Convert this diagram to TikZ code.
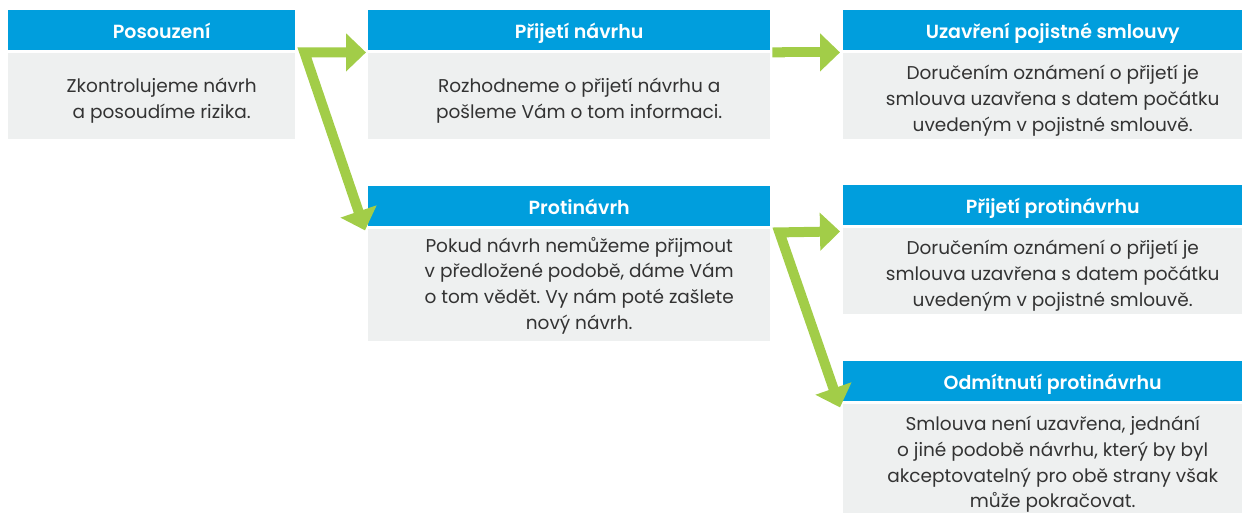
\documentclass[tikz,border=0pt]{standalone}
\usepackage{fontspec}
\setmainfont{Poppins}
\newfontfamily\kopfpismo{Poppins SemiBold}
\usetikzlibrary{arrows.meta,
                positioning}
\definecolor{kopfblau}{HTML}{009EDD}
\definecolor{flaeche}{HTML}{EEF0F0}
\definecolor{zelena}{HTML}{A2CD48}
\definecolor{pismo}{HTML}{333333}
\frenchspacing

\begin{document}
\begin{tikzpicture}%
    [x = 1pt, y = -1pt,
     kopf/.style = {fill=kopfblau, anchor=north west, inner sep=0pt, minimum height=40pt,
                    label={[nadpis]center:#1}},
     nadpis/.style = {text=white, xshift=10pt, yshift=-1pt, inner sep=0pt,
                      text height=14pt, text depth=0pt,
                      font=\kopfpismo\fontsize{19}{22}\selectfont},
     telo/.style = {fill=flaeche, inner sep=0pt},
     popis/.style = {text=pismo, align=center, xshift=10pt, yshift=-5pt,
                     font=\fontsize{18.5}{25.7}\selectfont},
     sipka/.style = {draw=zelena, line width=10pt, miter limit=10,
                     {Triangle[length=20pt, width=37pt]}-{Triangle[length=20pt, width=37pt]}}]
    \useasboundingbox (0, 0) rectangle (1242, 512);

    \node [kopf=Posouzení, minimum width=287pt] (posouzeni) at (8, 10) {};
    \node [kopf=Přijetí návrhu, minimum width=402pt] (prijeti) at (368, 10) {};
    \node [kopf=Uzavření pojistné smlouvy, minimum width=399pt] (uzavreni) at (843, 10) {};
    \node [kopf=Protinávrh, minimum width=402pt] (protinavrh) at (368, 186) {};
    \node [kopf=Přijetí protinávrhu, minimum width=399pt] (prijetiP) at (843, 185) {};
    \node [kopf=Odmítnutí protinávrhu, minimum width=399pt] (odmitnuti) at (843, 361) {};

    \node [telo, below=2pt of posouzeni, minimum width=287pt, minimum height=86pt,
           label={[popis]center:{Zkontrolujeme návrh\\ a posoudíme rizika.}}] (posouzeniT) {};
    \node [telo, below=2pt of prijeti, minimum width=402pt, minimum height=86pt,
           label={[popis]center:{Rozhodneme o přijetí návrhu a\\ pošleme Vám o tom informaci.}}] (prijetiT) {};
    \node [telo, below=2pt of uzavreni, minimum width=399pt, minimum height=86pt,
           label={[popis]center:{Doručením oznámení o přijetí je\\ smlouva uzavřena s datem počátku\\ uvedeným v pojistné smlouvě.}}] (uzavreniT) {};
    \node [telo, below=2pt of protinavrh, minimum width=402pt, minimum height=112pt,
           label={[popis, yshift=4pt]center:{Pokud návrh nemůžeme přijmout\\ v předložené podobě, dáme Vám\\ o tom vědět. Vy nám poté zašlete\\ nový návrh.}}] (protinavrhT) {};
    \node [telo, below=2pt of prijetiP, minimum width=399pt, minimum height=86pt,
           label={[popis]center:{Doručením oznámení o přijetí je\\ smlouva uzavřena s datem počátku\\ uvedeným v pojistné smlouvě.}}] (prijetiPT) {};
    \node [telo, below=2pt of odmitnuti, minimum width=399pt, minimum height=112pt,
           label={[popis]center:{Smlouva není uzavřena, jednání\\ o jiné podobě návrhu, který by byl\\ akceptovatelný pro obě strany však\\ může pokračovat.}}] (odmitnutiT) {};

    \draw [sipka] ([shift={(-2,2)}]prijeti.south west) -- ([shift={(9,2)}]posouzeni.south east)
        -- ([shift={(-3,4)}]protinavrh.south west);
    \draw [sipka, {Butt Cap}-{Triangle[length=20pt, width=37pt]}] ([shift={(2,2)}]prijeti.south east)
        -- ([shift={(-3,2)}]uzavreni.south west);
    \draw [sipka] ([shift={(-3,6)}]prijetiP.south west) -- ([shift={(9,6)}]protinavrh.south east)
        -- ([shift={(-3,6)}]odmitnuti.south west);
\end{tikzpicture}
\end{document}
